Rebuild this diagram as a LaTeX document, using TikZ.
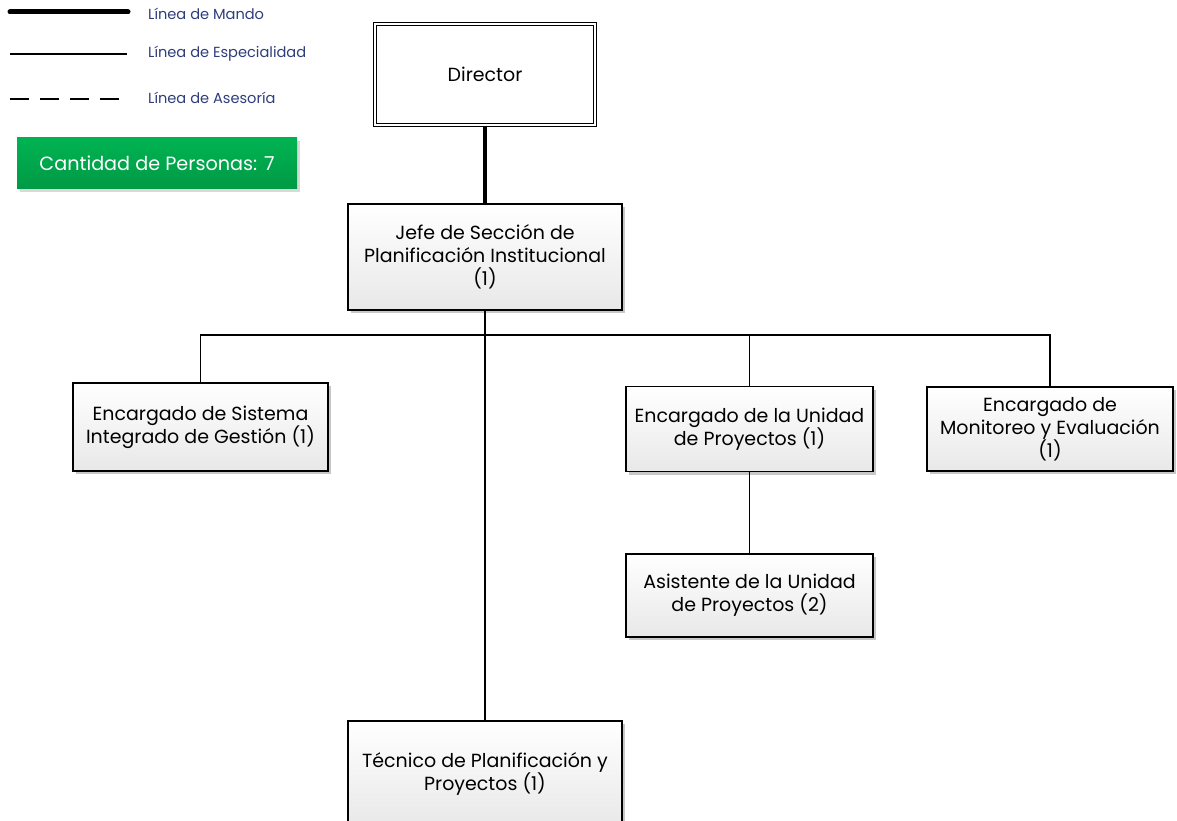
\documentclass[tikz,border=0pt]{standalone}
\usepackage{fontspec}
\setmainfont{Poppins}
\usetikzlibrary{positioning, shadows}
\definecolor{leyenda}{HTML}{2E3D7C}
\definecolor{verdeA}{HTML}{00B352}
\definecolor{verdeB}{HTML}{009A45}

\begin{document}
\begin{tikzpicture}[x=1pt, y=-1pt, font=\fontsize{19}{23}\selectfont,
	puesto/.style={draw, line width=1.3pt, top color=white, bottom color=black!9, align=center, inner sep=2pt,
		drop shadow={shadow xshift=3pt, shadow yshift=-3pt, fill=black!22, opacity=1}},
	mando/.style={line width=3.5pt},
	espec/.style={line width=1.3pt},
	txtley/.style={anchor=west, text=leyenda, font=\fontsize{14.6}{16}\selectfont, inner sep=0pt}]
	
	\useasboundingbox (0,0) rectangle (1177,821);
	
	% leyenda
	\coordinate (m1) at (10,12);
	\coordinate (m2) at (128,12);
	\coordinate (e1) at (10,54);
	\coordinate (e2) at (127,54);
	\coordinate (a1) at (10,99);
	\coordinate (a2) at (122,99);
	\node (lm) [txtley] at (148,14) {Línea de Mando};
	\node (le) [txtley] at (148,54) {Línea de Especialidad};
	\node (la) [txtley] at (148,98) {Línea de Asesoría};
	\draw [line width=5pt, line cap=round] (m1) -- (m2);
	\draw [line width=1.8pt] (e1) -- (e2);
	\draw [line width=1.8pt, dash pattern=on 19pt off 11pt] (a1) -- (a2);
	
	\node (total) [minimum width=280pt, minimum height=51pt, top color=verdeA, bottom color=verdeB, text=white,
		font=\fontsize{19.2}{21}\selectfont,
		drop shadow={shadow xshift=3pt, shadow yshift=-3pt, fill=black!15, opacity=1}] at (157,163.5)
		{Cantidad de Personas: 7};
	
	% organigrama
	\node (dir) [draw, line width=1.2pt, double, double distance=2pt, fill=white, minimum width=220pt, minimum height=101pt] at (485,74.5) {Director};
	\node (jefe) [puesto, minimum width=274pt, minimum height=106pt, below of=dir, node distance=182.5pt] {Jefe de Sección de\\Planificación Institucional\\(1)};
	\node (sist) [puesto, minimum width=255pt, minimum height=88pt] at (200.5,427) {Encargado de Sistema\\Integrado de Gestión (1)};
	\node (unid) [puesto, minimum width=247pt, minimum height=85pt] at (749.5,429) {Encargado de la Unidad\\de Proyectos (1)};
	\node (moni) [puesto, minimum width=246pt, minimum height=84pt, right of=unid, node distance=300.5pt] {Encargado de\\Monitoreo y Evaluación\\(1)};
	\node (asis) [puesto, minimum width=247pt, minimum height=83pt, below of=unid, node distance=166.5pt] {Asistente de la Unidad\\de Proyectos (2)};
	\node (tec) [puesto, minimum width=274pt, minimum height=106pt, below of=jefe, node distance=517pt] {Técnico de Planificación y\\Proyectos (1)};
	
	\coordinate (bus) at (484,335);
	
	\path [mando] (dir) edge (jefe);
	\draw [espec] (sist.north) |- (bus) -| (moni.north);
	\draw [espec] (unid.north) |- (bus);
	\path [espec]
	(jefe) edge (tec)
	(unid) edge (asis);
	
\end{tikzpicture}
\end{document}
